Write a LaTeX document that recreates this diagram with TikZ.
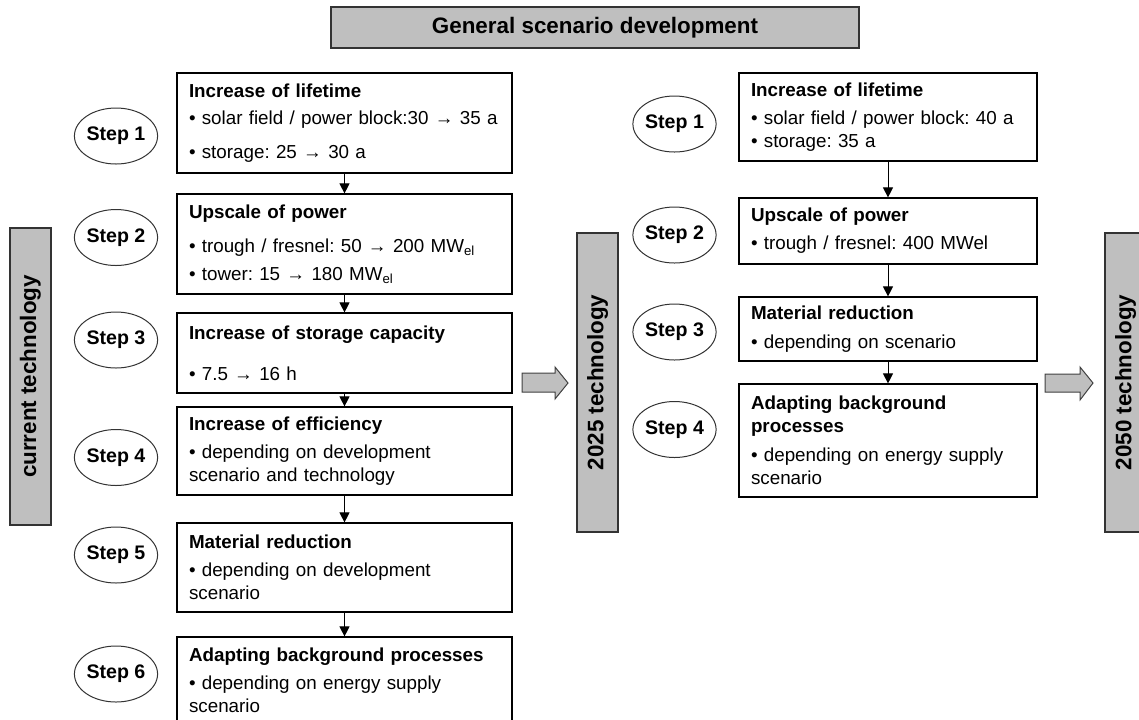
\documentclass[tikz,border=0pt]{standalone}
\usepackage{fontspec}
\setmainfont{Liberation Sans}
\usetikzlibrary{arrows.meta, shapes.geometric}
\frenchspacing

\begin{document}
\begin{tikzpicture}[
  x=0.5pt, y=-0.5pt,
  every node/.style={font=\fontsize{9.4}{11.5}\selectfont},
  hdr/.style={draw=black!80, fill=black!25, line width=0.6pt, minimum width=264pt,
              minimum height=20.5pt, inner sep=0pt,
              font=\fontsize{11.2}{13}\selectfont\bfseries},
  bar/.style={draw=black!80, fill=black!25, line width=0.6pt, rotate=90,
              minimum height=20.5pt, inner sep=0pt,
              font=\fontsize{11.2}{13}\selectfont\bfseries},
  stp/.style={ellipse, draw=black!80, line width=0.5pt, minimum width=41pt,
              minimum height=28pt, inner sep=0pt,
              font=\fontsize{9.8}{11}\selectfont\bfseries},
  bx/.style={draw, line width=0.6pt, align=left, inner xsep=6pt, inner ysep=1pt},
  lbx/.style={bx, text width=155.5pt},
  rbx/.style={bx, text width=137pt},
  nxt/.style={-{Triangle[length=5pt,width=5pt]}, line width=0.5pt},
  fat/.style={draw=black!75, fill=black!25, line width=0.5pt}
]
\useasboundingbox (0,0) rectangle (1139,719);
\clip (0,0) rectangle (1139,719);

%% header
\node[hdr] (gen) at (595,27.5) {General scenario development};

%% technology bars
\node[bar, minimum width=148.5pt] (curtech) at (30.5,376.5) {current technology};
\node[bar, minimum width=149.5pt] (tech25) at (597.5,382.5) {2025 technology};
\node[bar, minimum width=149.5pt] (tech50) at (1125.5,382.5) {2050 technology};

%% steps, current -> 2025
\node[stp] (ls1) at (116,136)   {Step 1};
\node[stp] (ls2) at (116,237.5) {Step 2};
\node[stp] (ls3) at (116,340)   {Step 3};
\node[stp] (ls4) at (116,457.5) {Step 4};
\node[stp] (ls5) at (116,555)   {Step 5};
\node[stp] (ls6) at (116,674)   {Step 6};

\node[lbx, minimum height=50pt] (L1) at (344.5,123)
  {\textbf{Increase of lifetime}\\[2pt]
   • solar field / power block:30 → 35 a\\[5.5pt]
   • storage: 25 → 30 a};
\node[lbx, minimum height=50pt] (L2) at (344.5,244)
  {\textbf{Upscale of power}\\[5.5pt]
   • trough / fresnel: 50 → 200 MW\textsubscript{el}\\[2.5pt]
   • tower: 15 → 180 MW\textsubscript{el}};
\node[lbx, minimum height=40pt] (L3) at (344.5,353)
  {\textbf{Increase of storage capacity}\\[9pt]
   • 7.5 → 16 h};
\node[lbx, minimum height=44pt] (L4) at (344.5,451)
  {\textbf{Increase of efficiency}\\[2.5pt]
   • depending on development\\
   scenario and technology};
\node[lbx, minimum height=44.5pt] (L5) at (344.5,567.5)
  {\textbf{Material reduction}\\[2.5pt]
   • depending on development\\
   scenario};
\node[lbx, minimum height=43pt] (L6) at (344.5,680)
  {\textbf{Adapting background processes}\\[2.5pt]
   • depending on energy supply\\
   scenario};

%% steps, 2025 -> 2050
\node[stp] (rs1) at (674.5,124)   {Step 1};
\node[stp] (rs2) at (674.5,235)   {Step 2};
\node[stp] (rs3) at (674.5,332)   {Step 3};
\node[stp] (rs4) at (674.5,429.5) {Step 4};

\node[rbx, minimum height=44pt] (R1) at (888,117)
  {\textbf{Increase of lifetime}\\[2.5pt]
   • solar field / power block: 40 a\\
   • storage: 35 a};
\node[rbx, minimum height=33pt] (R2) at (888,231)
  {\textbf{Upscale of power}\\[2.5pt]
   • trough / fresnel: 400 MWel};
\node[rbx, minimum height=32pt] (R3) at (888,329)
  {\textbf{Material reduction}\\[3pt]
   • depending on scenario};
\node[rbx, minimum height=56.5pt] (R4) at (888,440.5)
  {\textbf{Adapting background}\\
   \textbf{processes}\\[3pt]
   • depending on energy supply\\
   scenario};

%% step arrows
\foreach \a/\b in {L1/L2, L2/L3, L3/L4, L4/L5, L5/L6, R1/R2, R2/R3, R3/R4}
  \draw[nxt] (\a) -- (\b);

%% block arrows to the next technology
\draw[fat] (522,373) -- (555,373) -- (555,367) -- (568,383)
  -- (555,399) -- (555,392) -- (522,392) -- cycle;
\draw[fat] (1045,374) -- (1080,374) -- (1080,367) -- (1093,383)
  -- (1080,400) -- (1080,392) -- (1045,392) -- cycle;
\end{tikzpicture}
\end{document}
